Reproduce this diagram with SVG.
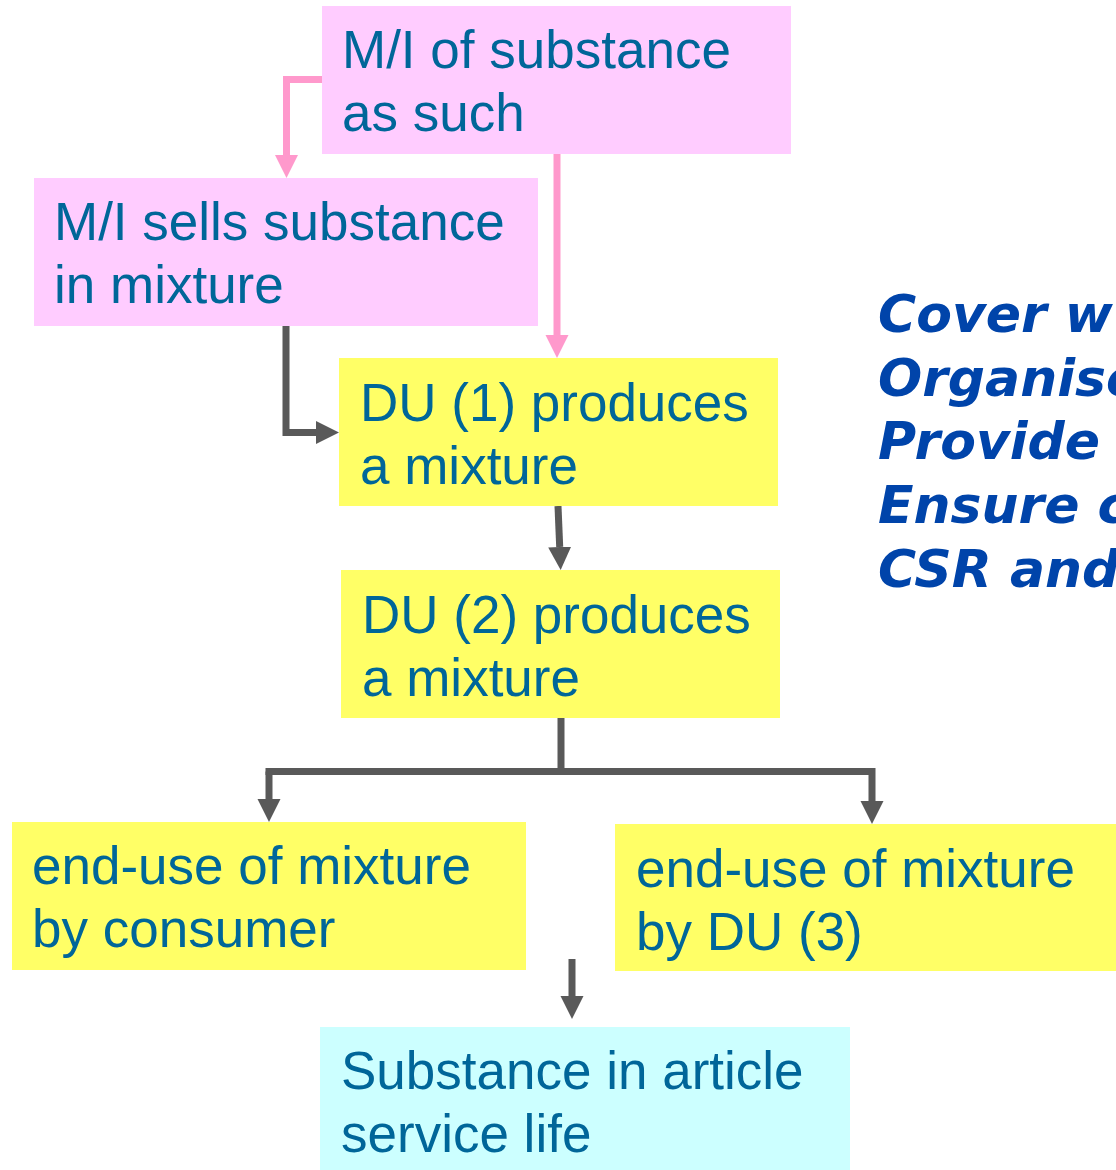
<svg xmlns="http://www.w3.org/2000/svg" width="1116" height="1170" viewBox="0 0 1116 1170">
<style>
.pink{fill:#FFCCFF}
.yellow{fill:#FFFF66}
.cyan{fill:#CCFFFF}
.t{font-family:"Liberation Sans",Arial,sans-serif;font-size:53px;fill:#006699}
.note{font-family:"DejaVu Sans",Verdana,sans-serif;font-weight:bold;font-style:italic;font-size:52px;fill:#0044AA}
.cp{fill:none;stroke:#FF99CC;stroke-width:7}
.cg{fill:none;stroke:#595959;stroke-width:7}
</style>
<defs>
<marker id="ap" markerUnits="userSpaceOnUse" markerWidth="24" markerHeight="24" refX="0" refY="11.5" orient="auto" viewBox="0 0 24 24">
<path d="M0,0 L23,11.5 L0,23 z" fill="#FF99CC"/>
</marker>
<marker id="ag" markerUnits="userSpaceOnUse" markerWidth="24" markerHeight="24" refX="0" refY="11.5" orient="auto" viewBox="0 0 24 24">
<path d="M0,0 L23,11.5 L0,23 z" fill="#595959"/>
</marker>
</defs>
<rect width="1116" height="1170" fill="#FFFFFF"/>
<g id="connectors">
<path class="cp" d="M322,79.5 H286.5 V155" marker-end="url(#ap)"/>
<path class="cp" d="M557,154 V335" marker-end="url(#ap)"/>
<path class="cg" d="M286,326 V432.5 H316" marker-end="url(#ag)"/>
<path class="cg" d="M558,506 L559.7,547" marker-end="url(#ag)"/>
<path class="cg" d="M561,718 V771.5"/>
<path class="cg" d="M269,771.5 V799" marker-end="url(#ag)"/>
<path class="cg" d="M265.5,771.5 H872 V801" marker-end="url(#ag)"/>
<path class="cg" d="M572,959 V996" marker-end="url(#ag)"/>
</g>
<g id="n1">
<rect class="pink" x="322" y="6" width="469" height="148"/>
<text class="t" x="342" y="68">M/I of substance</text>
<text class="t" x="342" y="131">as such</text>
</g>
<g id="n2">
<rect class="pink" x="34" y="178" width="504" height="148"/>
<text class="t" x="54" y="240">M/I sells substance</text>
<text class="t" x="54" y="303">in mixture</text>
</g>
<g id="n3">
<rect class="yellow" x="339" y="358" width="439" height="148"/>
<text class="t" x="360" y="421">DU (1) produces</text>
<text class="t" x="360" y="484">a mixture</text>
</g>
<g id="n4">
<rect class="yellow" x="341" y="570" width="439" height="148"/>
<text class="t" x="362" y="633">DU (2) produces</text>
<text class="t" x="362" y="696">a mixture</text>
</g>
<g id="n5">
<rect class="yellow" x="12" y="822" width="514" height="148"/>
<text class="t" x="32" y="884">end-use of mixture</text>
<text class="t" x="32" y="947">by consumer</text>
</g>
<g id="n6">
<rect class="yellow" x="615" y="824" width="501" height="147"/>
<text class="t" x="636" y="887">end-use of mixture</text>
<text class="t" x="636" y="950">by DU (3)</text>
</g>
<g id="n7">
<rect class="cyan" x="320" y="1027" width="530" height="143"/>
<text class="t" x="341" y="1089">Substance in article</text>
<text class="t" x="341" y="1152">service life</text>
</g>
<g id="note">
<text class="note" x="878" y="332">Cover w</text>
<text class="note" x="878" y="396">Organise</text>
<text class="note" x="878" y="459">Provide</text>
<text class="note" x="878" y="523">Ensure c</text>
<text class="note" x="878" y="587">CSR and</text>
</g>
</svg>
